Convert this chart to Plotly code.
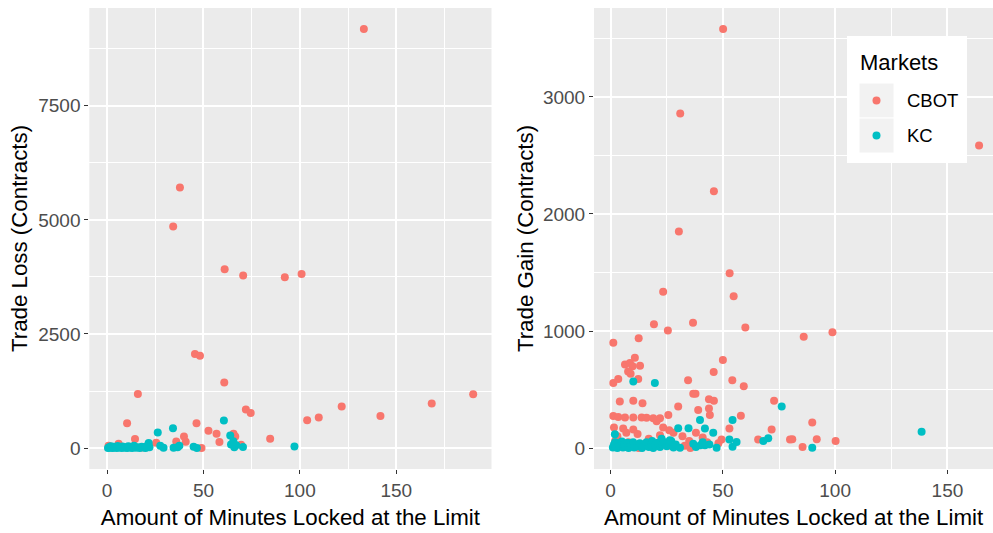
import plotly.graph_objects as go

# ---------------- data ----------------
# Left panel: Trade Loss vs minutes locked
left_cbot_x = [133.2, 37.8, 34.3, 61.0, 70.6, 92.2, 100.9, 45.6, 48.2, 60.8, 16.0, 189.9,
               168.4, 121.7, 72.0, 74.5, 141.8, 109.8, 103.8, 10.4, 46.4, 52.6, 56.8, 65.6,
               66.5, 39.9, 40.8, 35.9, 58.3, 84.6, 14.5, 6.0, 25.5, 0.8, 49.0, 69.5,
               12.0, 3.0, 18.0, 22.0, 5.5]
left_cbot_y = [9185, 5708, 4858, 3917, 3783, 3745, 3812, 2059, 2021, 1439, 1184, 1178,
               977, 910, 845, 770, 701, 671, 610, 545, 545, 377, 312, 312,
               253, 253, 140, 144, 131, 203, 200, 94, 115, 50, 0, 72,
               30, 20, 10, 60, 40]

left_kc_x = [0.5, 1.0, 1.5, 2.0, 2.5, 3.0, 3.5, 4.0, 5.0, 5.5, 6.0, 7.0, 7.5, 8.0, 9.0,
             10.0, 10.5, 11.0, 12.0, 13.0, 13.5, 14.0, 15.0, 16.0, 17.0, 18.0, 19.0, 20.0,
             20.5, 21.6, 22.0, 26.3, 27.6, 29.3, 34.2, 34.5, 36.6, 37.5, 44.9, 46.6,
             60.6, 63.9, 64.3, 65.5, 66.0, 67.0, 70.5, 97.2]
left_kc_y = [0, 20, 5, 40, 10, 0, 30, 15, 0, 45, 10, 25, 0, 35, 5,
             20, 0, 40, 10, 0, 25, 50, 5, 15, 0, 30, 10, 0,
             40, 109, 15, 340, 50, 5, 436, 5, 20, 50, 30, 0,
             602, 275, 80, 150, 20, 60, 22, 35]

# Right panel: Trade Gain vs minutes locked
right_cbot_x = [50.1, 31.0, 164.1, 46.0, 30.4, 53.0, 23.4, 54.8, 36.7, 19.3, 25.5, 60.0,
                86.0, 98.8, 1.2, 12.5, 50.0, 45.9, 34.5, 54.2, 59.3, 72.8, 6.4, 8.6,
                10.8, 9.8, 13.1, 7.8, 8.9, 1.2, 3.4, 12.3, 4.1, 10.1, 14.2, 30.1,
                36.8, 37.8, 43.8, 46.0, 39.0, 43.8, 44.2, 58.0, 1.2, 3.4, 6.4, 10.1,
                13.8, 16.0, 19.0, 22.0, 25.7, 20.5, 1.5, 5.6, 10.1, 23.4, 26.1, 52.9,
                71.7, 65.7, 79.9, 49.4, 89.8, 80.9, 91.8, 100.2, 85.5,
                3.0, 7.0, 12.0, 17.0, 22.0, 28.0, 32.0, 35.0, 38.0, 41.0, 43.0, 48.0,
                15.0, 8.0, 27.0, 33.0, 2.0, 35.5, 12.5]
right_cbot_y = [3581, 2858, 2585, 2195, 1850, 1494, 1335, 1298, 1070, 1057, 1004, 1030,
                952, 990, 900, 938, 752, 650, 580, 580, 528, 405, 713, 727,
                771, 698, 704, 655, 635, 555, 590, 590, 397, 405, 382, 355,
                465, 465, 417, 405, 325, 339, 282, 276, 273, 265, 262, 262,
                262, 258, 255, 255, 282, 230, 176, 167, 158, 176, 153, 167,
                158, 72, 72, 72, 219, 75, 75, 61, 9,
                100, 130, 120, 80, 110, 130, 100, 60, 130, 90, 50, 40,
                30, 50, 20, 20, 60, 0, 0]

right_kc_x = [10.1, 19.7, 76.2, 138.5, 39.8, 54.3, 30.1, 34.7, 42.0, 45.7, 1.9, 52.9,
              56.1, 54.3, 68.0, 70.2, 47.2, 30.9, 40.0, 42.0, 36.8, 26.4, 22.7, 89.8,
              1.0, 1.5, 2.0, 2.5, 3.0, 3.5, 4.0, 5.0, 5.5, 6.0, 7.0, 7.5, 8.0, 9.0,
              10.0, 10.5, 11.0, 12.0, 13.0, 14.0, 15.0, 16.0, 17.0, 18.0, 18.5, 19.0,
              20.0, 21.0, 22.0, 23.0, 24.0, 25.0, 26.0, 27.0, 28.0, 29.0, 38.0, 41.0, 44.0]
right_kc_y = [568, 555, 355, 140, 239, 239, 170, 170, 167, 130, 118, 72,
              52, 12, 61, 84, 3, 3, 23, 23, 37, 66, 80, 3,
              5, 30, 50, 10, 0, 40, 20, 55, 5, 30, 10, 45, 0, 25,
              50, 5, 30, 15, 40, 0, 20, 50, 10, 35, 60, 0,
              25, 45, 10, 30, 50, 15, 35, 60, 5, 30, 10, 50, 30]

market_names = ["CBOT", "KC"]
market_colors = ["#F8766D", "#00BFC4"]

x_title = "Amount of Minutes Locked at the Limit"
left_y_title = "Trade Loss (Contracts)"
right_y_title = "Trade Gain (Contracts)"
legend_title = "Markets"

# ---------------- figure ----------------
W, H = 993, 533
TOP, BOTTOM = 8, 469          # panel pixel extents (vertical)
FONT = "Liberation Sans, Arial, sans-serif"

fig = go.Figure()

def add_points(x, y, color, xa, ya, name):
    fig.add_trace(go.Scatter(x=x, y=y, mode="markers", name=name, xaxis=xa, yaxis=ya,
                             marker=dict(color=color, size=8, line=dict(width=0)),
                             showlegend=False, hoverinfo="x+y+name"))

add_points(left_cbot_x, left_cbot_y, market_colors[0], "x", "y", market_names[0])
add_points(left_kc_x, left_kc_y, market_colors[1], "x", "y", market_names[1])
add_points(right_cbot_x, right_cbot_y, market_colors[0], "x2", "y2", market_names[0])
add_points(right_kc_x, right_kc_y, market_colors[1], "x2", "y2", market_names[1])

tickfont = dict(family=FONT, size=19, color="#4D4D4D")
titlefont = dict(family=FONT, size=22.3, color="#000000")

def axis_common():
    return dict(showgrid=True, gridcolor="white", gridwidth=1.6, zeroline=False,
                showline=False, ticks="outside", ticklen=4, tickwidth=1.3,
                tickcolor="#333333", tickfont=tickfont, automargin=False)

xa = axis_common()
xa.update(domain=[89.3 / W, 491.5 / W], range=[-9.2, 199.4], tickvals=[0, 50, 100, 150],
          minor=dict(showgrid=True, gridcolor="white", gridwidth=0.8, dtick=25, tick0=0),
          title=dict(text=x_title, font=titlefont, standoff=9), anchor="y")
ya = axis_common()
ya.update(domain=[0, 1], range=[-459, 9644], tickvals=[0, 2500, 5000, 7500],
          minor=dict(showgrid=True, gridcolor="white", gridwidth=0.8, dtick=1250, tick0=0),
          title=dict(text=left_y_title, font=titlefont, standoff=4), anchor="x")
xa2 = axis_common()
xa2.update(domain=[594 / W, 1.0], range=[-7.4, 170.3], tickvals=[0, 50, 100, 150],
           minor=dict(showgrid=True, gridcolor="white", gridwidth=0.8, dtick=25, tick0=0),
           title=dict(text=x_title, font=titlefont, standoff=9), anchor="y2")
ya2 = axis_common()
ya2.update(domain=[0, 1], range=[-179, 3760], tickvals=[0, 1000, 2000, 3000],
           minor=dict(showgrid=True, gridcolor="white", gridwidth=0.8, dtick=500, tick0=0),
           title=dict(text=right_y_title, font=titlefont, standoff=3), anchor="x2")

fig.update_layout(
    width=W, height=H,
    margin=dict(l=0, r=0, t=TOP, b=H - BOTTOM, pad=0),
    paper_bgcolor="white", plot_bgcolor="#EBEBEB",
    xaxis=xa, yaxis=ya, xaxis2=xa2, yaxis2=ya2,
    showlegend=False,
    font=dict(family=FONT),
)

# ---------------- manual ggplot-style legend ----------------
def px_x(px):
    return px / W

def px_y(py):
    return (BOTTOM - py) / (BOTTOM - TOP)

shapes = []
shapes.append(dict(type="rect", xref="paper", yref="paper", x0=px_x(847), x1=px_x(967),
                   y0=px_y(163), y1=px_y(36), fillcolor="white", line=dict(width=0), layer="above"))
key_tops = [83, 118]
for i, (name, col) in enumerate(zip(market_names, market_colors)):
    t = key_tops[i]
    shapes.append(dict(type="rect", xref="paper", yref="paper", x0=px_x(859), x1=px_x(894),
                       y0=px_y(t + 35), y1=px_y(t), fillcolor="#F2F2F2",
                       line=dict(color="white", width=1), layer="above"))
    cy = t + 17.5
    shapes.append(dict(type="circle", xref="paper", yref="paper", x0=px_x(872.5), x1=px_x(880.5),
                       y0=px_y(cy + 4), y1=px_y(cy - 4), fillcolor=col, line=dict(width=0),
                       layer="above"))
    fig.add_annotation(xref="paper", yref="paper", x=px_x(905), y=px_y(cy), text=name,
                       showarrow=False, xanchor="left", yanchor="middle",
                       font=dict(family=FONT, size=18.5, color="#000000"))
fig.add_annotation(xref="paper", yref="paper", x=px_x(858), y=px_y(63), text=legend_title,
                   showarrow=False, xanchor="left", yanchor="middle",
                   font=dict(family=FONT, size=22, color="#000000"))
fig.update_layout(shapes=shapes)

fig.write_html("out.html", config={"displayModeBar": False},
               post_script="document.body.style.margin='0';document.body.style.padding='0';")
